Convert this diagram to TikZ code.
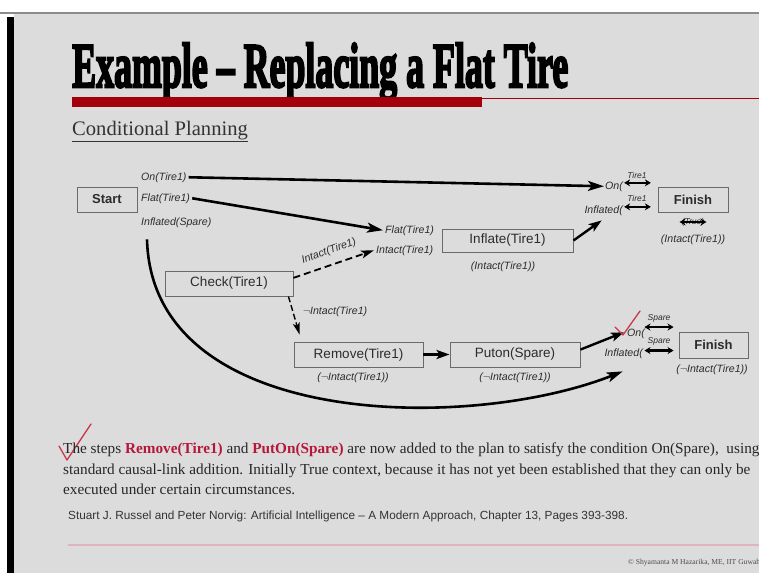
\documentclass[tikz,border=0pt]{standalone}
\usepackage{fontspec}
\setmainfont{Liberation Serif}
\setsansfont{Liberation Sans}
\newfontfamily\titlefont[BoldFeatures={FakeBold=4}]{Liberation Serif}
\usetikzlibrary{arrows.meta,calc}

\definecolor{slidebg}{HTML}{DCDCDC}
\definecolor{barred}{HTML}{A3000B}
\definecolor{inkgray}{HTML}{2C2C2C}
\definecolor{boxline}{HTML}{6A6A6A}
\definecolor{stepred}{HTML}{B5173A}
\definecolor{tickred}{HTML}{C8384A}
\definecolor{rulepink}{HTML}{E2B3BC}

\tikzset{
  stepbox/.style={draw=boxline, line width=0.9pt, inner sep=0pt, text=inkgray,
    font=\sffamily\fontsize{13.5}{13.5}\selectfont},
  endbox/.style={stepbox, font=\sffamily\bfseries\fontsize{13}{13}\selectfont},
  cond/.style={text=inkgray, inner sep=2pt, font=\sffamily\itshape\fontsize{10.6}{10.6}\selectfont},
  tinycond/.style={text=inkgray, inner sep=1pt, font=\sffamily\itshape\fontsize{8.5}{8.5}\selectfont},
  link/.style={draw=black, line width=2.6pt, -{Stealth[length=16pt,width=10pt,inset=4pt]}},
  shortlink/.style={draw=black, line width=2.4pt, -{Stealth[length=13pt,width=9pt,inset=3pt]}},
  dashlink/.style={draw=black, line width=1.8pt, dash pattern=on 7pt off 4pt,
    -{Stealth[length=13pt,width=8pt,inset=3pt]}},
  strikebar/.style={draw=black, line width=2.6pt,
    {Stealth[length=6pt,width=7pt]}-{Stealth[length=6pt,width=7pt]}},
  tick/.style={draw=tickred, line width=1.3pt, line cap=round, line join=round},
  bodytext/.style={anchor=base west, inner sep=0pt, text=black!85,
    font=\fontsize{15.25}{15.25}\selectfont},
}

\begin{document}
\begin{tikzpicture}[x=1pt,y=-1pt]
  \useasboundingbox (0,0) rectangle (759,573);
  \clip (0,0) rectangle (759,573);

  % slide frame
  \fill[white] (0,0) rectangle (759,573);
  \fill[slidebg] (14,14) rectangle (759,573);
  \fill[black!45] (0,12) rectangle (759,13.5);
  \fill[black] (7,17) rectangle (14,573);

  % title and rules
  \node[anchor=base west, inner sep=0pt] (title) at (72,87)
    {\resizebox{496pt}{44pt}{\titlefont\bfseries Example – Replacing a Flat Tire}};
  \fill[barred] (482,97.5) rectangle (759,99);
  \fill[barred] (72,97) rectangle (482,107);
  \node[anchor=base west, inner sep=0pt, text=black!80,
        font=\fontsize{20.6}{20.6}\selectfont] (subtitle) at (72,135)
    {\underline{Conditional Planning}};

  % steps
  \node[endbox, minimum width=60pt, minimum height=25pt] (start) at (107,199.5) {Start};
  \node[stepbox, minimum width=128pt, minimum height=25pt] (check) at (229,283.5) {Check(Tire1)};
  \node[stepbox, minimum width=131pt, minimum height=23pt] (inflate) at (507.5,240.5) {Inflate(Tire1)};
  \node[endbox, minimum width=70pt, minimum height=25pt] (finishA) at (693,199.5) {Finish};
  \node[stepbox, minimum width=129pt, minimum height=25pt] (remove) at (358.5,354.5) {Remove(Tire1)};
  \node[stepbox, minimum width=130pt, minimum height=25pt] (puton) at (515,354.5) {Puton(Spare)};
  \node[endbox, minimum width=69pt, minimum height=26pt] (finishB) at (713.5,345) {Finish};

  % effects of Start
  \node[cond, anchor=base west] (onT) at (139,180) {On(Tire1)};
  \node[cond, anchor=base west] (flatT) at (139,201) {Flat(Tire1)};
  \node[cond, anchor=base west] (inflSpare) at (139,225) {Inflated(Spare)};

  % preconditions of Inflate
  \node[cond, anchor=base west] (flatB) at (383,233) {Flat(Tire1)};
  \node[cond, anchor=base west] (intactB) at (374,253) {Intact(Tire1)};
  \node[cond] (inflCtx) at (503,267) {(Intact(Tire1))};

  % preconditions of the upper Finish
  \node[cond, anchor=base east, inner sep=1pt] (onF) at (624,189) {On(};
  \node[tinycond] (tireOn) at (637,175) {Tire1};
  \node[cond, anchor=base east, inner sep=1pt] (inflF) at (624,213) {Inflated(};
  \node[tinycond] (tireInfl) at (637,198.5) {Tire1};
  \node[tinycond] (trueA) at (693,222) {(True)};
  \node[cond] (finCtxA) at (693,240) {(Intact(Tire1))};
  \draw[strikebar] ($(tireOn.south west)+(-2,3.5)$) -- ($(tireOn.south east)+(3,3.5)$);
  \draw[strikebar] ($(tireInfl.south west)+(-2,4)$) -- ($(tireInfl.south east)+(3,4)$);
  \draw[strikebar] ($(trueA.west)+(-1,0)$) -- ($(trueA.east)+(1,0)$);

  % context labels of the lower branch
  \node[cond] (notIntact) at (335,312) {$\neg$Intact(Tire1)};
  \node[cond] (remCtx) at (353,378) {($\neg$Intact(Tire1))};
  \node[cond] (putCtx) at (515,378) {($\neg$Intact(Tire1))};
  \node[cond] (finCtxB) at (712,370) {($\neg$Intact(Tire1))};

  % preconditions of the lower Finish
  \node[cond, anchor=base east, inner sep=1pt] (onS) at (646,336) {On(};
  \node[tinycond] (spareOn) at (659,318) {Spare};
  \node[cond, anchor=base east, inner sep=1pt] (inflS) at (644,356) {Inflated(};
  \node[tinycond] (spareInfl) at (659,341.5) {Spare};
  \draw[strikebar] ($(spareOn.south west)+(-2,4)$) -- ($(spareOn.south east)+(2,4)$);
  \draw[strikebar] ($(spareInfl.south west)+(-2,4)$) -- ($(spareInfl.south east)+(2,4)$);

  % causal links
  \draw[link] (onT.east) -- (onF.west);
  \draw[link] (flatT.east) -- (flatB.west);
  \draw[shortlink] (inflate.east) -- ($(inflF.south)+(-2,4)$);
  \draw[dashlink] (check.5) -- (intactB.west);
  \node[cond, inner sep=0pt, rotate=20] (intactLbl) at (329,251) {Intact(Tire1)};
  \draw[draw=black, line width=1.4pt, dash pattern=on 6pt off 3pt,
        -{Stealth[length=12pt,width=7pt,inset=3pt]}]
    ($(check.south east)+(-5,0)$) -- ($(remove.north west)+(6,-7)$);
  \draw[shortlink] (remove.east) -- (puton.west);
  \draw[shortlink] ($(puton.north east)+(0,8)$) -- ($(onS.west)+(-2,-1)$);
  \draw[link] ($(inflSpare.south west)+(8,10)$)
    .. controls (152,430) and (470,432) .. ($(inflS.south)+(-1,12)$);

  % tick marks
  \draw[tick] (615,327) -- (623,335) -- (640,311);
  \draw[tick] (59,446) -- (67,460) -- (91,424);

  % explanation
  \node[bodytext] (lineA) at (63,453)
    {The steps \textcolor{stepred}{\textbf{Remove(Tire1)}} and \textcolor{stepred}{\textbf{PutOn(Spare)}} are now added to the plan to satisfy the condition On(Spare),~ using};
  \node[bodytext] (lineB) at (63,474)
    {standard causal-link addition. Initially True context, because it has not yet been established that they can only be};
  \node[bodytext] (lineC) at (63,494)
    {executed under certain circumstances.};

  % reference
  \node[anchor=base west, inner sep=0pt, text=black!80,
        font=\sffamily\fontsize{11.8}{11.8}\selectfont] (cite) at (68,519)
    {Stuart J. Russel and Peter Norvig: Artificial Intelligence – A Modern Approach, Chapter 13, Pages 393-398.};
  \fill[rulepink] (68,544) rectangle (759,546);
  \node[anchor=base west, inner sep=0pt, text=black!70,
        font=\fontsize{7.6}{7.6}\selectfont] (copy) at (628,564)
    {\textcopyright{} Shyamanta M Hazarika, ME, IIT Guwahati};
\end{tikzpicture}
\end{document}
